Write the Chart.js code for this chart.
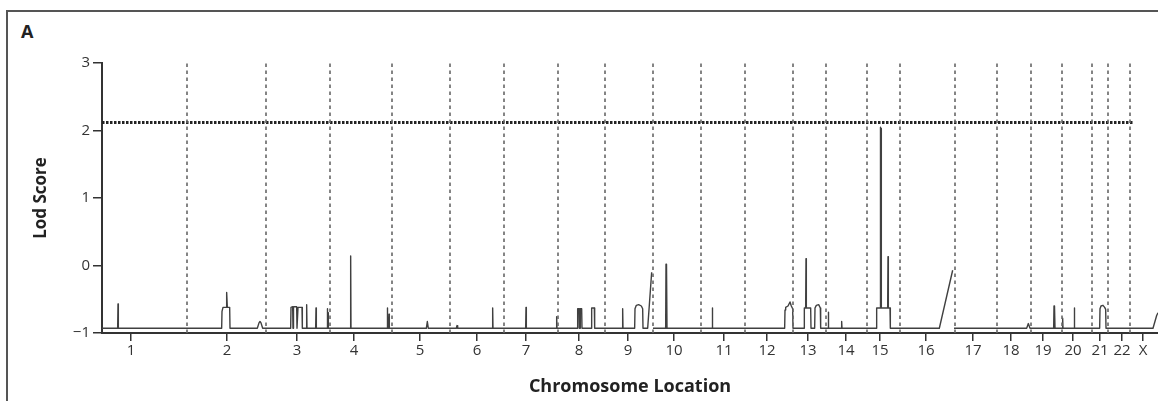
<!DOCTYPE html>
<html>
<head>
<meta charset="utf-8">
<script src="https://cdn.jsdelivr.net/npm/chart.js@4.4.1/dist/chart.umd.min.js"></script>
<style>
  html, body { margin: 0; padding: 0; background: #fff; overflow: hidden; }
  #wrap { position: relative; width: 1158px; height: 401px; }
  #frame { position: absolute; left: 6px; top: 10px; width: 1170px; height: 420px; border: 2px solid #555; box-sizing: border-box; }
  #panel { position: absolute; left: 21px; top: 19px; font: bold 18px "Open Sans", sans-serif; color: #222; }
  canvas { position: absolute; left: 0; top: 0; }
</style>
</head>
<body>
<div id="wrap">
  <div id="frame"></div>
  <div id="panel">A</div>
  <canvas id="lodChart" width="1158" height="401"></canvas>
</div>
<script>
// Genome position (cM, cumulative) and LOD score
const baseline = -0.93;
const B = baseline;

const chromLabels = ["1","2","3","4","5","6","7","8","9","10","11","12","13","14","15","16","17","18","19","20","21","22","X"];
const chromLabelPos = [87,375,585,756,954,1125,1272,1431,1578,1716,1866,1995,2118,2232,2334,2472,2613,2727,2823,2913,2994,3060,3123];
const chromBoundaries = [255,492,684,870,1044,1206,1368,1509,1653,1797,1929,2073,2172,2295,2394,2559,2685,2787,2880,2970,3018,3084];

const lodX = [
  0,
  47,48,49,
  359,360,363,372,374,376,383,384,
  466,471,474,477,482,
  566,567,572,573,574,575,584,585,587,588,600,601,
  613,614,615,
  641,642,643,
  675,676,677,678,679,
  745,746,747,
  855,856,857,860,861,862,
  973,976,979,
  1063,1065,1067,
  1171,1172,1173,
  1271,1272,1273,
  1363,1364,1365,
  1426,1427,1431,1432,1434,1435,1439,1440,
  1468,1469,1477,1478,
  1561,1562,1563,
  1598,1599,1603,1610,1618,1622,1623,
  1637,1649,1651,
  1653,
  1691,1692,1693,1694,1695,
  1830,1831,1832,
  2048,2049,2051,2058,2064,2068,2072,2073,
  2106,2107,2111,2112,2113,2126,2127,
  2138,2139,2143,2150,2155,2156,
  2178,2179,2180,
  2218,2219,2220,
  2323,2324,2334,2335,2336,2337,2338,2357,2358,2359,2364,2365,
  2512,2552,2554,
  2556,
  2774,2779,2784,
  2855,2856,2857,2858,2859,
  2881,2882,2883,
  2916,2917,2918,
  2993,2994,2997,3003,3008,3011,3012,
  3153,3164,3168
];
const lodY = [
  B,
  B,-0.57,B,
  B,-0.68,-0.62,-0.62,-0.40,-0.62,-0.62,B,
  B,-0.85,-0.83,-0.85,B,
  B,-0.62,-0.61,B,B,-0.61,-0.61,B,B,-0.62,-0.62,B,
  B,-0.58,B,
  B,-0.63,B,
  B,-0.64,B,-0.70,B,
  B,0.14,B,
  B,-0.63,B,B,-0.72,B,
  B,-0.83,B,
  B,-0.89,B,
  B,-0.63,B,
  B,-0.62,B,
  B,-0.76,B,
  B,-0.64,-0.64,B,B,-0.64,-0.64,B,
  B,-0.63,-0.63,B,
  B,-0.64,B,
  B,-0.64,-0.59,-0.58,-0.60,-0.64,B,
  B,-0.10,null,
  B,
  B,0.02,B,0.02,B,
  B,-0.63,B,
  B,-0.66,-0.62,-0.60,-0.54,-0.60,-0.64,B,
  B,-0.63,-0.63,0.10,-0.63,-0.63,B,
  B,-0.63,-0.59,-0.58,-0.63,B,
  B,-0.69,B,
  B,-0.83,B,
  B,-0.63,-0.63,2.05,-0.60,2.03,-0.63,-0.63,0.13,-0.63,-0.63,B,
  B,-0.07,null,
  B,
  B,-0.86,B,
  B,-0.60,B,-0.60,B,
  B,-0.78,B,
  B,-0.63,B,
  B,-0.64,-0.60,-0.59,-0.62,-0.65,B,
  B,-0.74,-0.70
];

const threshold = 2.12;
const thresholdEnd = 3093;

const lodData = lodX.map((x, i) => ({ x: x, y: lodY[i] }));
const dividerData = [];
chromBoundaries.forEach(b => {
  dividerData.push({ x: b, y: -1 }, { x: b, y: 3 }, { x: b, y: null });
});

const fontFamily = '"Open Sans", sans-serif';

new Chart(document.getElementById("lodChart"), {
  type: "line",
  data: {
    datasets: [
      {
        label: "Chromosome boundaries",
        data: dividerData,
        borderColor: "#666",
        borderWidth: 1.6,
        borderDash: [3.5, 3.5],
        pointRadius: 0,
        spanGaps: false
      },
      {
        label: "Threshold",
        data: [{ x: 0, y: threshold }, { x: thresholdEnd, y: threshold }],
        borderColor: "#222",
        borderWidth: 3,
        borderDash: [2.5, 1.5],
        pointRadius: 0
      },
      {
        label: "Lod Score",
        data: lodData,
        borderColor: "#404040",
        borderWidth: 1.4,
        borderJoinStyle: "round",
        pointRadius: 0,
        spanGaps: false
      }
    ]
  },
  options: {
    responsive: false,
    animation: false,
    devicePixelRatio: 1,
    layout: { padding: { top: 63, right: 0, bottom: 0, left: 0 } },
    plugins: { legend: { display: false }, tooltip: { enabled: false } },
    scales: {
      x: {
        type: "linear",
        min: 0,
        max: 3168,
        afterBuildTicks: scale => { scale.ticks = chromLabelPos.map(v => ({ value: v })); },
        afterFit: scale => { scale.height = 68; },
        ticks: {
          autoSkip: false,
          maxRotation: 0,
          padding: 1,
          color: "#333",
          font: { family: fontFamily, size: 15 },
          callback: (v, i) => chromLabels[i]
        },
        grid: { drawOnChartArea: false, drawTicks: true, tickLength: 8, color: "#333", lineWidth: 1.5 },
        border: { display: true, color: "#333", width: 2 },
        title: {
          display: true,
          text: "Chromosome Location",
          color: "#222",
          font: { family: fontFamily, size: 18, weight: "bold" },
          padding: { top: 0, bottom: 3 }
        }
      },
      y: {
        min: -1,
        max: 3,
        afterFit: scale => { scale.width = 102; },
        ticks: {
          stepSize: 1,
          padding: 3,
          color: "#333",
          font: { family: fontFamily, size: 15 },
          callback: v => (v < 0 ? "\u2212" + Math.abs(v) : String(v))
        },
        grid: { drawOnChartArea: false, drawTicks: true, tickLength: 9, color: "#333", lineWidth: 1.5 },
        border: { display: true, color: "#333", width: 2 },
        title: {
          display: true,
          text: "Lod Score",
          color: "#222",
          font: { family: fontFamily, size: 17, weight: "bold" },
          padding: { top: 31, bottom: 0 }
        }
      }
    }
  }
});
</script>
</body>
</html>
